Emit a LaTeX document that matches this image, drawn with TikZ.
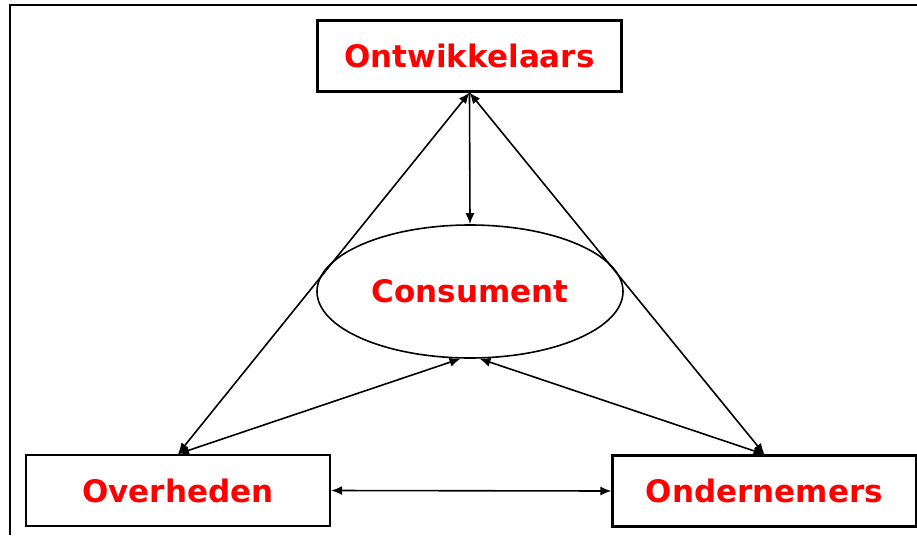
\documentclass[tikz,border=0pt]{standalone}
\usepackage{fontspec}
\setmainfont{DejaVu Sans}
\usepackage{tikz}
\usetikzlibrary{arrows.meta,shapes.geometric}

\begin{document}
\begin{tikzpicture}[x=1pt,y=-1pt,
        actor/.style={draw,line width=2.2pt,minimum width=304pt,minimum height=71pt,inner sep=0pt},
        label/.style={text=red,font=\fontsize{31}{36}\selectfont\bfseries},
        link/.style={line width=1.6pt,{Latex[length=11pt,width=9pt]}-{Latex[length=11pt,width=9pt]}},
        onelink/.style={line width=1.6pt,-{Latex[length=11pt,width=9pt]}}]
        \useasboundingbox (0,0) rectangle (917,535);
        \draw [line width=2pt] (10,535) -- (10,5) -- (917,5);
        \node [actor,label] (ontw) at (469.5,56) {Ontwikkelaars};
        \node [actor,label] (overh) at (178,490.5) {Overheden};
        \node [actor,label] (onder) at (764.5,491) {Ondernemers};
        \node [draw,line width=1.6pt,ellipse,minimum width=306pt,minimum height=133pt,inner sep=0pt,label] (cons) at (470,291.5) {Consument};
        \draw [onelink] (ontw.south) -- (cons.north);
        \draw [link] (ontw.south) -- (overh.north);
        \draw [link] (ontw.south) -- (onder.north);
        \draw [link] (overh.north) -- (cons.262);
        \draw [link] (onder.north) -- (cons.278);
        \draw [link] (overh.east) -- (onder.west);
    \end{tikzpicture}
\end{document}
